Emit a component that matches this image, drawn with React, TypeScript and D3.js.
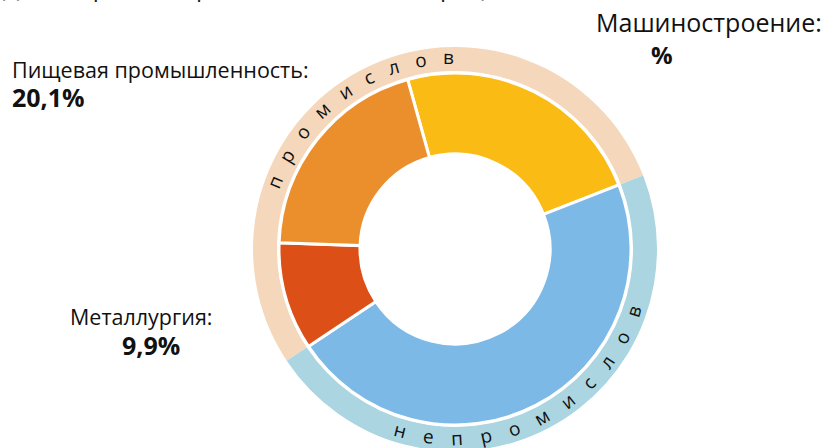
import React from "react";
import * as d3 from "d3";

const sectors = ["Машиностроение", "Прочие", "Металлургия", "Пищевая промышленность"];
const shares = [23.4, 46.6, 9.9, 20.1];
const sectorColors = ["#F9BB14", "#7DB9E7", "#DC5018", "#EB8F2C"];
const groups = ["промислов", "непромислов"];
const groupShares = [53.4, 46.6];
const groupColors = ["#F5D8BB", "#AAD5E1"];

const W = 829, H = 448;
const cx = 455, cy = 249;
const deg = Math.PI / 180;

function pt(r: number, a: number) {
  return [cx + r * Math.sin(a), cy - r * Math.cos(a)];
}
function arcPath(r: number, a0: number, a1: number, cw: boolean) {
  const [x0, y0] = pt(r, a0);
  const [x1, y1] = pt(r, a1);
  return `M${x0},${y0} A${r},${r} 0 0 ${cw ? 1 : 0} ${x1},${y1}`;
}

export default function App() {
  const startA = -15.6 * deg;
  const pie = d3.pie<number>().sort(null).startAngle(startA).endAngle(startA + 2 * Math.PI).value((d) => d);
  const arcs = pie(shares);
  const arcGen = d3.arc<d3.PieArcDatum<number>>().innerRadius(95).outerRadius(176);

  const gStart = arcs[2].startAngle - 2 * Math.PI;
  const gpie = d3.pie<number>().sort(null).startAngle(gStart).endAngle(gStart + 2 * Math.PI).value((d) => d);
  const garcs = gpie(groupShares);
  const gArcGen = d3.arc<d3.PieArcDatum<number>>().innerRadius(178).outerRadius(202);

  const topC = -35.9 * deg;
  const botC = 153 * deg;
  const font = "'Open Sans', sans-serif";

  return (
    <svg width={W} height={H} style={{ position: "absolute", left: 0, top: 0, background: "#fff" }} fontFamily={font}>
      <text x={3} y={-4} fontSize={24} fill="#222">Доля отраслей промышленности, в процентах</text>
      <g>
        {garcs.map((a, i) => (
          <path key={i} d={gArcGen(a) || ""} fill={groupColors[i]} transform={`translate(${cx},${cy})`} />
        ))}
        {arcs.map((a, i) => (
          <path key={i} d={arcGen(a) || ""} fill={sectorColors[i]} stroke="#fff" strokeWidth={3} transform={`translate(${cx},${cy})`} />
        ))}
      </g>
      <defs>
        <path id="topPath" d={arcPath(185, topC - Math.PI / 2, topC + Math.PI / 2, true)} />
        <path id="botPath" d={arcPath(196, botC + Math.PI / 2, botC - Math.PI / 2, false)} />
      </defs>
      <text fontSize={19} fill="#111" letterSpacing={15.8}>
        <textPath href="#topPath" startOffset="50%" textAnchor="middle">
          <tspan dx={7.9}>{groups[0]}</tspan>
        </textPath>
      </text>
      <text fontSize={19} fill="#111" letterSpacing={18.5}>
        <textPath href="#botPath" startOffset="50%" textAnchor="middle">
          <tspan dx={9.2}>{groups[1]}</tspan>
        </textPath>
      </text>

      <text x={596} y={32} fontSize={25} fill="#111">{sectors[0] + ":"}</text>
      <text x={651} y={64} fontSize={24} fontWeight="bold" fill="#111">%</text>

      <text x={12} y={78} fontSize={21.5} fill="#111">{sectors[3] + ":"}</text>
      <text x={12} y={107} fontSize={25} fontWeight="bold" fill="#111">{String(shares[3]).replace(".", ",") + "%"}</text>

      <text x={70} y={325} fontSize={21.5} fill="#111">{sectors[2] + ":"}</text>
      <text x={122} y={355} fontSize={25} fontWeight="bold" fill="#111">{String(shares[2]).replace(".", ",") + "%"}</text>
    </svg>
  );
}
